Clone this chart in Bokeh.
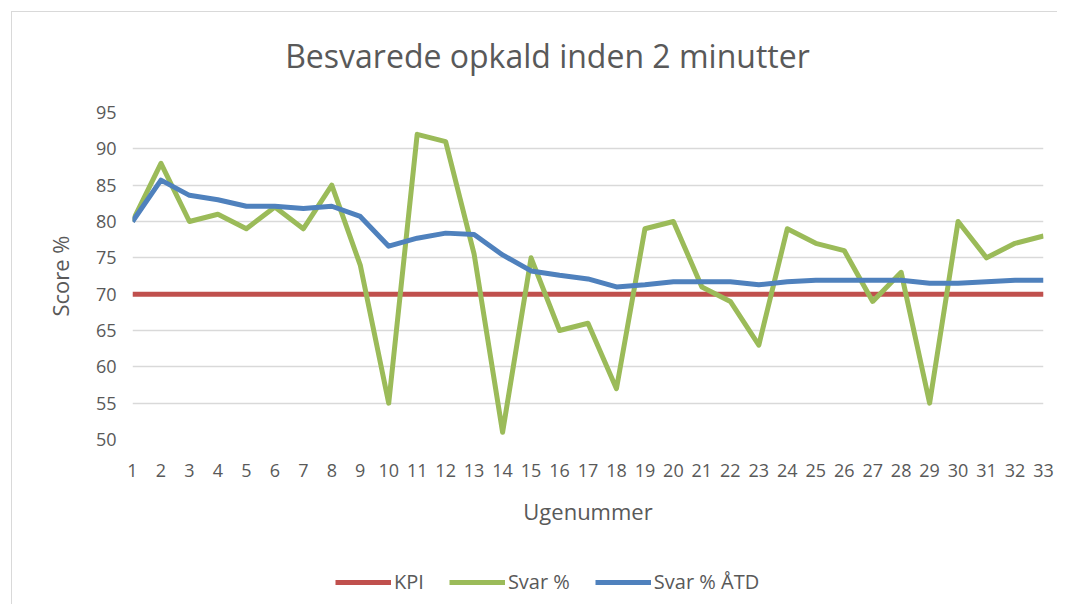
from bokeh.plotting import figure
from bokeh.layouts import column
from bokeh.models import Legend, LegendItem, FixedTicker, Range1d, Label
from bokeh.embed import file_html
from bokeh.resources import INLINE

weeks = list(range(1, 34))
kpi = [70] * 33
svar = [80, 88, 80, 81, 79, 82, 79, 85, 74, 55, 92, 91, 75.5, 51, 75, 65, 66, 57,
        79, 80, 71, 69, 63, 79, 77, 76, 69, 73, 55, 80, 75, 77, 78]
svar_atd = [80, 85.7, 83.6, 83, 82.1, 82.1, 81.8, 82.1, 80.7, 76.6, 77.7, 78.4, 78.2,
            75.4, 73.2, 72.6, 72.1, 71, 71.3, 71.7, 71.7, 71.7, 71.3, 71.7, 71.9,
            71.9, 71.9, 71.9, 71.5, 71.5, 71.7, 71.9, 71.9]
y_ticks = [50, 55, 60, 65, 70, 75, 80, 85, 90, 95]
series_names = ["KPI", "Svar %", "Svar % ÅTD"]
series_colors = ["#C0504D", "#9BBB59", "#4F81BD"]
title_text = "Besvarede opkald inden 2 minutter"

FONT = "Open Sans"
GREY = "#595959"


def blank(fig):
    fig.xgrid.grid_line_color = None
    fig.ygrid.grid_line_color = None
    fig.outline_line_color = None
    fig.background_fill_color = "white"
    fig.border_fill_color = "white"


# Title strip
t = figure(frame_width=911, frame_height=84, output_backend="svg", toolbar_location=None,
           x_range=Range1d(0, 1), y_range=Range1d(0, 1),
           x_axis_location=None, y_axis_location=None,
           min_border_left=120, min_border_right=14, min_border_top=0, min_border_bottom=0)
blank(t)
t.add_layout(Label(x=0.4555, y=0.49, text=title_text, text_align="center",
                   text_baseline="alphabetic", text_font=FONT, text_font_size="32px",
                   text_color=GREY))

# Main chart
p = figure(frame_width=911, frame_height=327, output_backend="svg",
           toolbar_location=None,
           x_range=Range1d(1, 33), y_range=Range1d(50, 95),
           min_border_left=120, min_border_right=14, min_border_top=16,
           min_border_bottom=95)
p.outline_line_color = None
p.background_fill_color = "white"
p.border_fill_color = "white"

series = [kpi, svar, svar_atd]
for ys, c in zip(series, series_colors):
    p.line(weeks, ys, line_color=c, line_width=5, line_join="round")

p.xaxis.ticker = FixedTicker(ticks=weeks)
p.yaxis.ticker = FixedTicker(ticks=y_ticks)
p.xgrid.grid_line_color = None
p.ygrid.grid_line_color = "#D9D9D9"
p.ygrid.grid_line_width = 1.5

for ax in (p.xaxis, p.yaxis):
    ax.axis_line_color = None
    ax.major_tick_line_color = None
    ax.minor_tick_line_color = None
    ax.major_label_text_font = FONT
    ax.major_label_text_font_size = "18px"
    ax.major_label_text_color = GREY
    ax.axis_label_text_font = FONT
    ax.axis_label_text_font_size = "22px"
    ax.axis_label_text_font_style = "normal"
    ax.axis_label_text_color = GREY

p.xaxis.axis_label = "Ugenummer"
p.yaxis.axis_label = "Score %"
p.xaxis.major_label_standoff = 18
p.xaxis.axis_label_standoff = 16
p.yaxis.major_label_standoff = 10
p.yaxis.axis_label_standoff = 18

# Legend strip below the chart (lines lie outside its ranges; only the legend shows)
lg = figure(frame_width=911, frame_height=70, output_backend="svg", toolbar_location=None,
            x_range=Range1d(100, 101), y_range=Range1d(100, 101),
            x_axis_location=None, y_axis_location=None,
            min_border_left=120, min_border_right=14, min_border_top=0, min_border_bottom=0)
blank(lg)
items = []
for name, ys, c in zip(series_names, series, series_colors):
    r = lg.line(weeks, ys, line_color=c, line_width=5)
    items.append(LegendItem(label=name, renderers=[r]))

legend = Legend(items=items, orientation="horizontal", location=(203, 9),
                label_text_font=FONT, label_text_font_size="20px",
                label_text_color=GREY, glyph_width=56, label_standoff=3,
                spacing=25, border_line_color=None, background_fill_alpha=0,
                margin=0, padding=0)
lg.add_layout(legend, "center")

layout = column(t, p, lg, spacing=0)
layout.margin = (11, 0, 0, 11)
layout.styles = {"border-top": "1px solid #D9D9D9", "border-left": "1px solid #D9D9D9"}

open("out.html", "w").write(file_html(layout, INLINE))
